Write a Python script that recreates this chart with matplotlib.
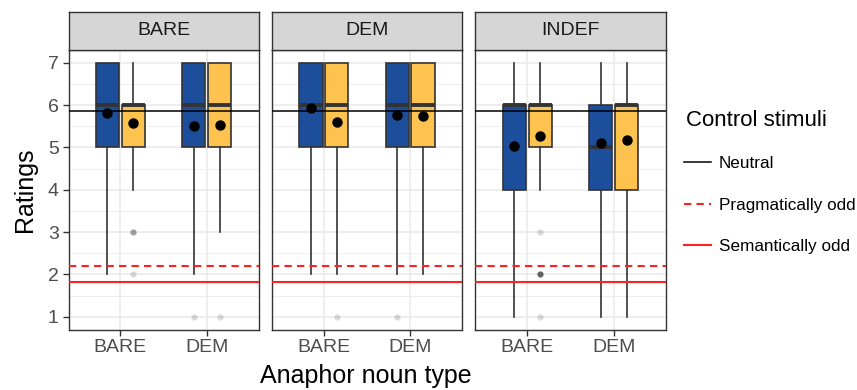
import numpy as np
import matplotlib
matplotlib.use('Agg')
import matplotlib.pyplot as plt
from matplotlib.lines import Line2D

plt.rcParams['font.family'] = ['Liberation Sans', 'DejaVu Sans']

# facets (antecedent type), x categories (anaphor noun type), two fill groups
facets = ['BARE', 'DEM', 'INDEF']
noun_types = ['BARE', 'DEM']
group_colors = ['#1C4E9C', '#FEC34F']

# box stats indexed [facet][noun type][group]
q1 = [[[5, 5], [5, 5]], [[5, 5], [5, 5]], [[4, 5], [4, 4]]]
med = [[[6, 6], [6, 6]], [[6, 6], [6, 6]], [[6, 6], [5, 6]]]
q3 = [[[7, 6], [7, 7]], [[7, 7], [7, 7]], [[6, 6], [6, 6]]]
whislo = [[[2, 4], [2, 3]], [[2, 2], [2, 2]], [[1, 4], [1, 1]]]
whishi = [[[7, 7], [7, 7]], [[7, 7], [7, 7]], [[7, 7], [7, 7]]]
means = [[[5.82, 5.57], [5.51, 5.54]],
         [[5.92, 5.59], [5.76, 5.75]],
         [[5.04, 5.27], [5.11, 5.18]]]
# outliers as (rating, number of overlapping points)
fliers = [[[[], [(3, 3), (2, 1)]], [[(1, 1)], [(1, 1)]]],
          [[[], [(1, 1)]], [[(1, 1)], []]],
          [[[], [(3, 1), (2, 6), (1, 1)]], [[], []]]]

# control stimuli reference lines
control_labels = ['Neutral', 'Pragmatically odd', 'Semantically odd']
control_values = [5.85, 2.20, 1.82]
control_colors = ['black', '#FF2020', '#FF2020']
control_styles = ['-', (0, (3.5, 2.5)), '-']

W, H = 857, 390
fig = plt.figure(figsize=(W / 100, H / 100), dpi=100)

panel_left = [68.5, 272.0, 475.5]
panel_w = 190.0
top, bottom, strip_top = 50.0, 329.5, 11.7
dark = '#333333'
offsets = [-0.15, 0.15]
box_w = 0.27

for f, name in enumerate(facets):
    x0 = panel_left[f]
    ax = fig.add_axes([x0 / W, 1 - bottom / H, panel_w / W, (bottom - top) / H])
    sax = fig.add_axes([x0 / W, 1 - top / H, panel_w / W, (top - strip_top) / H])

    # strip
    sax.set_facecolor('#D6D6D6')
    sax.set_xticks([])
    sax.set_yticks([])
    for s in sax.spines.values():
        s.set_color(dark)
        s.set_linewidth(1.0)
    sax.text(0.5, 0.5, name, ha='center', va='center', fontsize=14,
             color='#1A1A1A', transform=sax.transAxes)

    # grid
    for y in np.arange(1, 8):
        ax.axhline(y, color='#EBEBEB', lw=1.2, zorder=0)
    for y in np.arange(0.5, 7.6, 1.0):
        ax.axhline(y, color='#EBEBEB', lw=0.6, zorder=0)
    for xi in range(len(noun_types)):
        ax.axvline(xi + 1, color='#EBEBEB', lw=1.2, zorder=0)

    for n in range(len(noun_types)):
        for g in range(2):
            pos = n + 1 + offsets[g]
            st = dict(med=med[f][n][g], q1=q1[f][n][g], q3=q3[f][n][g],
                      whislo=whislo[f][n][g], whishi=whishi[f][n][g], fliers=[])
            ax.bxp([st], positions=[pos], widths=box_w, showcaps=False,
                   showfliers=False, patch_artist=True,
                   boxprops=dict(facecolor=group_colors[g], edgecolor=dark, lw=1.2),
                   medianprops=dict(color=dark, lw=2.8, solid_capstyle='butt'),
                   whiskerprops=dict(color=dark, lw=1.2),
                   manage_ticks=False, zorder=2)
            for val, cnt in fliers[f][n][g]:
                alpha = 1 - (1 - 0.14) ** cnt
                ax.plot(pos, val, 'o', ms=4.5, color='black', alpha=alpha,
                        mec='none', zorder=2)

    for val, col, ls in zip(control_values, control_colors, control_styles):
        ax.axhline(val, color=col, ls=ls, lw=1.1 if col == 'black' else 1.5, zorder=3)

    for n in range(len(noun_types)):
        for g in range(2):
            ax.plot(n + 1 + offsets[g], means[f][n][g], 'o', ms=6.5,
                    color='black', zorder=4)

    ax.set_xlim(0.4, 2.6)
    ax.set_ylim(0.7, 7.3)
    ax.set_xticks(range(1, len(noun_types) + 1))
    ax.set_xticklabels(noun_types)
    ax.set_yticks(range(1, 8))
    ax.set_facecolor('white')
    for s in ax.spines.values():
        s.set_color(dark)
        s.set_linewidth(1.0)
    ax.tick_params(axis='both', length=4, width=1.0, color=dark,
                   labelsize=14, labelcolor='#4D4D4D', pad=3)
    if f > 0:
        ax.tick_params(axis='y', left=False, labelleft=False)

fig.text(366 / W, 1 - 376 / H, 'Anaphor noun type', ha='center', va='center',
         fontsize=18)
fig.text(25 / W, 1 - 190 / H, 'Ratings', ha='center', va='center',
         rotation=90, fontsize=18)

# legend for the control lines
fig.text(686 / W, 1 - 121 / H, 'Control stimuli', ha='left', va='center',
         fontsize=16)
handles = [Line2D([], [], color=c, ls=ls, lw=1.1 if c == 'black' else 1.5)
           for c, ls in zip(control_colors, control_styles)]
fig.legend(handles, control_labels, loc='upper left',
           bbox_to_anchor=(684 / W, 1 - 156 / H),
           frameon=False, fontsize=12.3,
           handlelength=1.6, handletextpad=0.45, labelspacing=1.56,
           borderpad=0, borderaxespad=0)

fig.savefig('out.png', dpi=100)
